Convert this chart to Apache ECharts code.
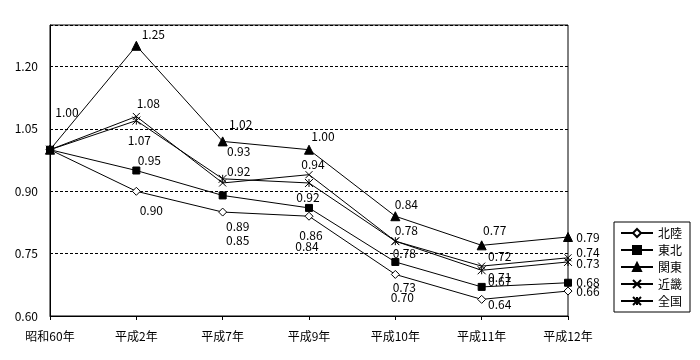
<!DOCTYPE html>
<html><head><meta charset="utf-8">
<script src="https://cdn.jsdelivr.net/npm/echarts@6/dist/echarts.min.js"></script>
<style>html,body{margin:0;padding:0;background:#fff}#c{width:700px;height:360px}</style>
</head><body><div id="c"></div>
<script>
const categories = ['昭和60年','平成2年','平成7年','平成9年','平成10年','平成11年','平成12年'];
const seriesNames = ['北陸','東北','関東','近畿','全国'];
const hokuriku = [1.00,0.90,0.85,0.84,0.70,0.64,0.66];
const tohoku   = [1.00,0.95,0.89,0.86,0.73,0.67,0.68];
const kanto    = [1.00,1.25,1.02,1.00,0.84,0.77,0.79];
const kinki    = [1.00,1.08,0.92,0.94,0.78,0.72,0.74];
const zenkoku  = [1.00,1.07,0.93,0.92,0.78,0.71,0.73];
const yMin = 0.60, yMax = 1.30, yStep = 0.15;

// label layout (pixel offsets from marker centre); null = no label
const labelOffsets = {
  '北陸': [null,[15,19],[15,28],[-2,30],[7,23],[18,5],[20,0]],
  '東北': [null,[13,-10],[15,31],[2,28],[9,25],[18,-5],[20,0]],
  '関東': [[17,-37],[17,-11],[18,-17],[14,-13],[11,-12],[13,-15],[20,0]],
  '近畿': [null,[12,-13],[16,-12],[4,-10],[11,-11],[18,-10],[20,-5]],
  '全国': [null,[3,20],[16,-27],[-1,14],[9,12],[18,7],[20,1]]
};
const symbols = {
  '北陸': {symbol:'diamond', size:8, color:'#fff'},
  '東北': {symbol:'rect', size:7, color:'#000'},
  '関東': {symbol:'triangle', size:9, color:'#000'},
  '近畿': {symbol:'path://M0,0L10,10M10,0L0,10', size:7, color:'#000'},
  '全国': {symbol:'path://M0,0L10,10M10,0L0,10M5,0L5,10', size:8, color:'#000'}
};
const values = [hokuriku, tohoku, kanto, kinki, zenkoku];
const FONT = '"Noto Sans CJK JP", sans-serif';

const series = seriesNames.map((name, si) => {
  const s = symbols[name];
  return {
    name, type:'line',
    data: values[si].map((v, i) => {
      const off = labelOffsets[name][i];
      return {
        value: v,
        label: off ? {show:true, position:'inside', offset:off} : {show:false}
      };
    }),
    symbol: s.symbol, symbolSize: s.size, showAllSymbol:true,
    lineStyle: {color:'#000', width:1},
    itemStyle: {color:s.color, borderColor:'#000', borderWidth:1},
    label: {color:'#000', fontSize:12, fontFamily:FONT, formatter: p => p.value.toFixed(2)},
    emphasis: {disabled:true},
    animation:false, z: 2 + si
  };
});

const chart = echarts.init(document.getElementById('c'), null, {renderer:'canvas'});
chart.setOption({
  backgroundColor:'#fff',
  animation:false,
  grid:{left:50, right:132, top:25, bottom:44, show:true, borderColor:'#000', borderWidth:1, backgroundColor:'transparent'},
  legend:{
    orient:'vertical', left:614, top:222, width:76,
    data:seriesNames, borderColor:'#000', borderWidth:1,
    padding:[5,8,5,6], itemGap:5, itemWidth:32, itemHeight:10,
    textStyle:{color:'#000', fontSize:12, fontFamily:FONT}
  },
  xAxis:{
    type:'category', data:categories, boundaryGap:false,
    axisLine:{lineStyle:{color:'#000'}},
    axisTick:{show:true, length:4, inside:false, lineStyle:{color:'#000'}},
    axisLabel:{color:'#000', fontSize:12, fontFamily:FONT, margin:14, interval:0},
    splitLine:{show:false}
  },
  yAxis:{
    type:'value', min:yMin, max:yMax, interval:yStep,
    axisLine:{show:true, lineStyle:{color:'#000'}},
    axisTick:{show:false},
    axisLabel:{color:'#000', fontSize:12, fontFamily:FONT, margin:12, showMaxLabel:false,
      formatter: v => v.toFixed(2)},
    splitLine:{show:true, lineStyle:{color:'#000', type:[3,2], width:1}}
  },
  series
});
</script></body></html>
